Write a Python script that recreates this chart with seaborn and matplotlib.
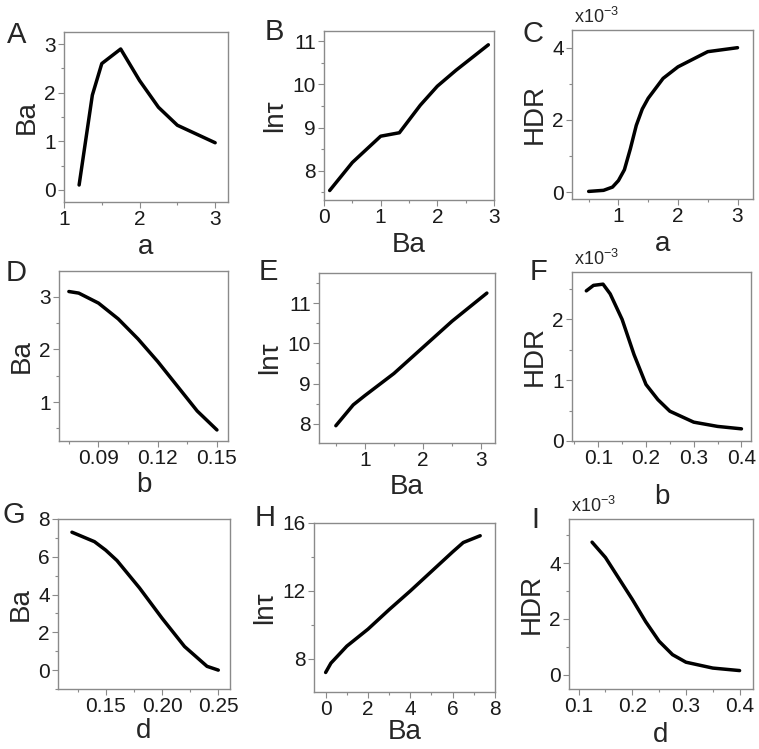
import seaborn as sns
import matplotlib.pyplot as plt
from matplotlib.ticker import MultipleLocator, FormatStrFormatter

# panel A: Ba vs a
a_A = [1.2, 1.375, 1.5, 1.75, 2.0, 2.25, 2.5, 3.0]
ba_A = [0.1, 1.95, 2.6, 2.9, 2.25, 1.7, 1.33, 0.97]
# panel B: ln tau vs Ba
ba_B = [0.1, 0.5, 1.0, 1.33, 1.7, 2.0, 2.33, 2.63, 2.9]
lntau_B = [7.54, 8.19, 8.8, 8.88, 9.52, 9.96, 10.33, 10.64, 10.92]
# panel C: HDR (x1e-3) vs a
a_C = [0.5, 0.75, 0.9, 1.0, 1.1, 1.2, 1.3, 1.4, 1.5, 1.75, 2.0, 2.25, 2.5, 3.0]
hdr_C = [0.02, 0.05, 0.14, 0.32, 0.62, 1.2, 1.85, 2.3, 2.6, 3.15, 3.47, 3.68, 3.89, 4.0]
# panel D: Ba vs b
b_D = [0.075, 0.08, 0.09, 0.10, 0.11, 0.12, 0.13, 0.14, 0.15]
ba_D = [3.1, 3.07, 2.88, 2.58, 2.2, 1.77, 1.3, 0.83, 0.47]
# panel E: ln tau vs Ba
ba_E = [0.5, 0.8, 1.0, 1.5, 2.0, 2.5, 3.1]
lntau_E = [7.95, 8.47, 8.7, 9.25, 9.9, 10.55, 11.25]
# panel F: HDR (x1e-3) vs b
b_F = [0.075, 0.09, 0.11, 0.125, 0.15, 0.175, 0.2, 0.225, 0.25, 0.3, 0.35, 0.4]
hdr_F = [2.47, 2.56, 2.58, 2.42, 2.0, 1.42, 0.93, 0.68, 0.49, 0.31, 0.24, 0.2]
# panel G: Ba vs d
d_G = [0.12, 0.14, 0.15, 0.16, 0.18, 0.20, 0.22, 0.24, 0.25]
ba_G = [7.3, 6.8, 6.35, 5.8, 4.35, 2.75, 1.25, 0.2, 0.0]
# panel H: ln tau vs Ba
ba_H = [0.0, 0.25, 1.0, 2.0, 3.0, 4.0, 5.0, 6.0, 6.5, 7.0, 7.3]
lntau_H = [7.2, 7.75, 8.75, 9.75, 10.9, 12.0, 13.15, 14.3, 14.85, 15.1, 15.25]
# panel I: HDR (x1e-3) vs d
d_I = [0.125, 0.15, 0.175, 0.2, 0.225, 0.25, 0.275, 0.3, 0.35, 0.4]
hdr_I = [4.75, 4.2, 3.45, 2.7, 1.9, 1.2, 0.72, 0.45, 0.24, 0.15]

sns.set_style("ticks")
plt.rcParams['font.family'] = ['Liberation Sans', 'DejaVu Sans']
plt.rcParams['mathtext.fontset'] = 'custom'
plt.rcParams['mathtext.rm'] = 'Liberation Sans'
plt.rcParams['mathtext.default'] = 'regular'

W, H = 759, 749
fig = plt.figure(figsize=(W / 100, H / 100), dpi=100)

# (letter, letter pos px, x, y, xlabel, ylabel, xlim, ylim, xmaj, ymaj, xfmt, box(l, r, t, b) px, sci, xlabelpad)
panels = [
    ('A', (7, 35), a_A, ba_A, 'a', 'Ba', (1, 3.17), (-0.25, 3.25), 1, 1, '%g', (64, 228, 32, 202), False, 3),
    ('B', (265, 32), ba_B, lntau_B, 'Ba', 'ln\u03c4', (0, 3), (7.32, 11.24), 1, 1, '%g', (324, 494, 31, 200), False, 3),
    ('C', (523, 34), a_C, hdr_C, 'a', 'HDR', (0.22, 3.26), (-0.19, 4.49), 1, 2, '%g', (572, 753, 30, 199), True, 3),
    ('D', (6, 273), b_D, ba_D, 'b', 'Ba', (0.07, 0.1556), (0.26, 3.49), 0.03, 1, '%.2f', (59, 228, 271, 441), False, 3),
    ('E', (259, 272), ba_E, lntau_E, 'Ba', 'ln\u03c4', (0.21, 3.24), (7.52, 11.75), 1, 1, '%g', (319, 495, 273, 443), False, 3),
    ('F', (530, 272), b_F, hdr_F, 'b', 'HDR', (0.045, 0.42), (0, 2.78), 0.1, 1, '%.1f', (572, 751, 272, 441), True, 11),
    ('G', (3, 515), d_G, ba_G, 'd', 'Ba', (0.1076, 0.2604), (-1, 8), 0.05, 2, '%.2f', (58, 230, 519, 689), False, 1),
    ('H', (255, 518), ba_H, lntau_H, 'Ba', 'ln\u03c4', (-0.55, 8), (6.05, 16), 2, 4, '%g', (314, 495, 523, 692), False, 0),
    ('I', (531, 520), d_I, hdr_I, 'd', 'HDR', (0.082, 0.425), (-0.51, 5.58), 0.1, 2, '%.1f', (569, 753, 519, 689), True, 4),
]

for letter, lpos, xs, ys, xl, yl, xlim, ylim, xmaj, ymaj, xfmt, box, sci, xpad in panels:
    l, r, t, b = box
    ax = fig.add_axes([l / W, 1 - b / H, (r - l) / W, (b - t) / H])
    sns.lineplot(x=xs, y=ys, ax=ax, color='black', linewidth=2.5, sort=False, estimator=None)
    ax.set_xlim(*xlim)
    ax.set_ylim(*ylim)
    ax.xaxis.set_major_locator(MultipleLocator(xmaj))
    ax.xaxis.set_minor_locator(MultipleLocator(xmaj / 2))
    ax.yaxis.set_major_locator(MultipleLocator(ymaj))
    ax.yaxis.set_minor_locator(MultipleLocator(ymaj / 2))
    ax.xaxis.set_major_formatter(FormatStrFormatter(xfmt))
    ax.yaxis.set_major_formatter(FormatStrFormatter('%g'))
    for s in ax.spines.values():
        s.set_color('#8a8a8a')
        s.set_linewidth(1.0)
    ax.tick_params(which='major', direction='out', length=4, width=0.8, color='#8a8a8a',
                   labelsize=15, labelcolor='#1a1a1a', pad=2)
    ax.tick_params(which='minor', direction='out', length=2.5, width=0.8, color='#8a8a8a')
    ax.set_xlabel(xl, fontsize=20, labelpad=xpad)
    ax.set_ylabel(yl, fontsize=20, labelpad=3)
    fig.text(lpos[0] / W, 1 - lpos[1] / H, letter, fontsize=21, ha='left', va='center')
    if sci:
        ax.text(0.01, 1.02, r'x10$^{-3}$', transform=ax.transAxes, fontsize=13, ha='left', va='bottom')

fig.savefig('out.png', dpi=100)
